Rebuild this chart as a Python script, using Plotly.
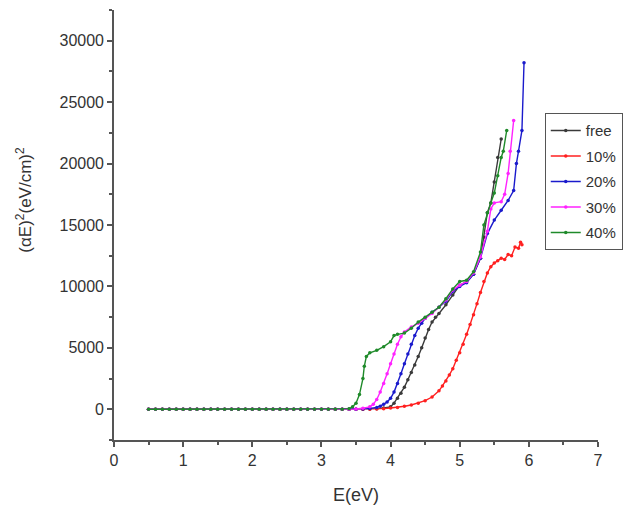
import plotly.graph_objects as go

# Photon energy (eV) shared by the flat, sub-gap part of every sample
E_LOW = [0.5, 0.6, 0.7, 0.8, 0.9, 1.0, 1.1, 1.2, 1.3, 1.4, 1.5, 1.6, 1.7, 1.8, 1.9,
         2.0, 2.1, 2.2, 2.3, 2.4, 2.5, 2.6, 2.7, 2.8, 2.9, 3.0, 3.1, 3.2, 3.3]
Y_LOW = [0, 0, 0, 0, 0, 0, 0, 0, 0, 0, 0, 0, 0, 0, 0,
         0, 0, 0, 0, 0, 0, 0, 0, 0, 0, 0, 0, 0, 0]

# Absorption edge, (alpha*E)^2 in (eV/cm)^2
E_FREE = [3.4, 3.5, 3.6, 3.7, 3.8, 3.9, 4.0, 4.05, 4.1, 4.15, 4.2, 4.25, 4.3, 4.35,
          4.4, 4.45, 4.5, 4.55, 4.6, 4.65, 4.7, 4.8, 4.9, 5.0, 5.1, 5.2, 5.3, 5.35,
          5.4, 5.45, 5.5, 5.55, 5.6]
Y_FREE = [0, 0, 10, 20, 50, 100, 200, 500, 900, 1300, 1800, 2400, 3000, 3600,
          4300, 5000, 5800, 6500, 7100, 7500, 7800, 8500, 9300, 10100, 10400, 11000,
          12300, 14000, 16000, 16800, 18500, 20500, 22000]

E_10 = [3.4, 3.5, 3.6, 3.7, 3.8, 3.9, 4.0, 4.1, 4.2, 4.3, 4.4, 4.5, 4.6, 4.7, 4.75,
        4.8, 4.85, 4.9, 4.95, 5.0, 5.05, 5.1, 5.15, 5.2, 5.25, 5.3, 5.35, 5.4, 5.45,
        5.5, 5.55, 5.6, 5.65, 5.7, 5.75, 5.8, 5.85, 5.88, 5.9]
Y_10 = [0, 0, 0, 0, 20, 50, 100, 150, 250, 350, 500, 700, 1000, 1500, 1900,
        2300, 2800, 3300, 4000, 4600, 5300, 6100, 6900, 7700, 8600, 9500, 10400,
        11100, 11600, 11900, 12100, 12300, 12200, 12600, 12500, 13200, 13100, 13600,
        13400]

E_20 = [3.4, 3.5, 3.6, 3.7, 3.8, 3.85, 3.9, 3.95, 4.0, 4.05, 4.1, 4.15, 4.2, 4.25,
        4.3, 4.35, 4.4, 4.45, 4.5, 4.6, 4.7, 4.8, 4.9, 5.0, 5.1, 5.2, 5.3, 5.4, 5.5,
        5.6, 5.7, 5.78, 5.82, 5.85, 5.9, 5.93]
Y_20 = [0, 0, 20, 60, 150, 250, 400, 600, 900, 1400, 2100, 2900, 3700, 4500,
        5300, 6000, 6600, 7000, 7400, 7900, 8300, 8800, 9600, 10000, 10300, 11000,
        12300, 14300, 15400, 16200, 17000, 17800, 20000, 21000, 22700, 28200]

E_30 = [3.4, 3.5, 3.6, 3.7, 3.75, 3.8, 3.85, 3.9, 3.95, 4.0, 4.05, 4.1, 4.15, 4.2,
        4.3, 4.4, 4.5, 4.6, 4.7, 4.8, 4.9, 5.0, 5.1, 5.2, 5.3, 5.4, 5.45, 5.5, 5.6,
        5.65, 5.7, 5.73, 5.78]
Y_30 = [0, 20, 80, 200, 400, 800, 1400, 2100, 2900, 3700, 4500, 5300, 5900, 6300,
        6700, 7000, 7400, 7800, 8300, 8900, 9700, 10100, 10400, 11100, 12400, 14500,
        16300, 16800, 16900, 17500, 19200, 21000, 23500]

E_40 = [3.4, 3.45, 3.5, 3.55, 3.6, 3.62, 3.65, 3.7, 3.8, 3.9, 4.0, 4.05, 4.1, 4.2,
        4.3, 4.4, 4.5, 4.6, 4.7, 4.8, 4.9, 5.0, 5.1, 5.2, 5.3, 5.35, 5.4, 5.45, 5.5,
        5.55, 5.6, 5.63, 5.68]
Y_40 = [50, 200, 500, 1200, 2500, 3500, 4300, 4600, 4800, 5100, 5500, 6000, 6100,
        6200, 6600, 7100, 7500, 7900, 8300, 9000, 9800, 10400, 10500, 11200, 12800,
        15000, 16000, 16800, 17600, 19000, 20500, 21000, 22700]

SERIES = [
    ("free", E_FREE, Y_FREE, "#3a3a3a"),
    ("10%", E_10, Y_10, "#ff2020"),
    ("20%", E_20, Y_20, "#1a1acc"),
    ("30%", E_30, Y_30, "#ff22ff"),
    ("40%", E_40, Y_40, "#1f8a2a"),
]

FONT = "Liberation Sans, Arial, sans-serif"
INK = "#333333"
AXIS = "#555555"

fig = go.Figure()
for name, ex, ey, col in SERIES:
    fig.add_trace(go.Scatter(
        x=E_LOW + ex, y=Y_LOW + ey, name=name, legendgroup=name,
        mode="lines+markers",
        line=dict(color=col, width=1.4),
        marker=dict(color=col, size=3.5, symbol="circle"),
    ))

axis_common = dict(
    showline=True, linecolor=AXIS, linewidth=1.6, showgrid=False,
    zeroline=False, ticks="outside", ticklen=5, tickcolor=AXIS, tickwidth=1.6,
    tickfont=dict(family=FONT, size=16, color=INK),
    mirror=False,
)

fig.update_xaxes(
    range=[0, 7], dtick=1, tick0=0,
    minor=dict(ticks="outside", ticklen=3, dtick=0.5, tickcolor=AXIS),
    title=dict(text="E(eV)", font=dict(family=FONT, size=18, color=INK), standoff=20),
    **axis_common,
)
fig.update_yaxes(
    range=[-2500, 32500], dtick=5000, tick0=0, tickformat="d",
    minor=dict(ticks="outside", ticklen=3, dtick=2500, tickcolor=AXIS),
    **axis_common,
)

# y-axis label placed as a rotated annotation, slightly above the axis centre
fig.add_annotation(
    text="(αE)<sup>2</sup>(eV/cm)<sup>2</sup>",
    xref="paper", yref="paper", x=-0.185, y=0.56,
    xanchor="center", yanchor="middle", textangle=-90, showarrow=False,
    font=dict(family=FONT, size=17, color=INK),
)

fig.update_layout(
    width=637, height=515,
    margin=dict(l=114, r=39, t=10, b=75),
    paper_bgcolor="white", plot_bgcolor="white",
    showlegend=True,
    legend=dict(
        x=0.89, y=0.76, xanchor="left", yanchor="top",
        bordercolor=AXIS, borderwidth=1, bgcolor="white",
        font=dict(family=FONT, size=15, color=INK),
        itemwidth=30, tracegroupgap=3,
    ),
)

fig.write_html("out.html")
